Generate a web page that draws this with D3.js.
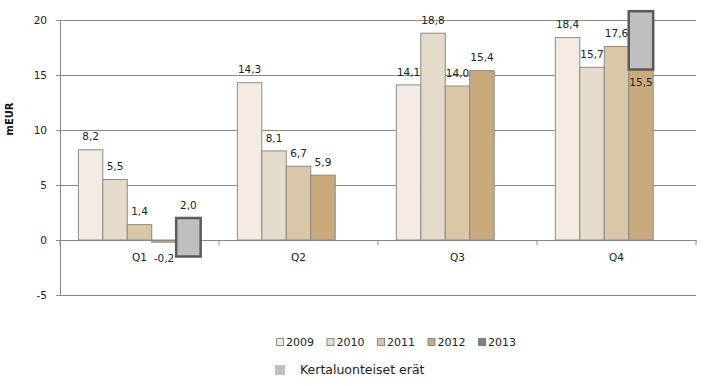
<!DOCTYPE html>
<html>
<head>
<meta charset="utf-8">
<script src="https://cdn.jsdelivr.net/npm/d3@7"></script>
<style>
  body { margin: 0; background: #fff; }
  svg { display: block; font-family: "DejaVu Sans", Verdana, sans-serif; }
</style>
</head>
<body>
<div id="chart"></div>
<script>
// data
const quarters = ["Q1", "Q2", "Q3", "Q4"];
const years = ["2009", "2010", "2011", "2012", "2013"];
const values2009 = [8.2, 14.3, 14.1, 18.4];
const values2010 = [5.5, 8.1, 18.8, 15.7];
const values2011 = [1.4, 6.7, 14.0, 17.6];
const values2012 = [-0.2, 5.9, 15.4, 15.5];
const values2013 = [2.0, null, null, null];
// one-off items drawn as floating boxes
const oneOffQuarters = ["Q1", "Q4"];
const oneOffSlots = ["2013", "2012"];
const oneOffLow = [-1.5, 15.5];
const oneOffHigh = [2.0, 20.8];
const oneOffName = "Kertaluonteiset erät";
const yTicks = [-5, 0, 5, 10, 15, 20];
const yTitle = "mEUR";

const colors = ["#f3ece2", "#e5dbca", "#dac7a8", "#c9aa7d", "#808080"];

const width = 711, height = 386;
const margin = { top: 20, right: 15, bottom: 91, left: 60 };

// plain hyphen minus, comma decimals
const locale = d3.formatLocale({ decimal: ",", thousands: " ", grouping: [3], currency: ["", ""], minus: "-" });
const fmt = locale.format(".1f");
const tickFmt = locale.format("d");

const svg = d3.select("#chart").append("svg")
  .attr("width", width)
  .attr("height", height);

const x = d3.scaleBand()
  .domain(quarters)
  .range([margin.left, width - margin.right]);

const xInner = d3.scaleBand()
  .domain(years)
  .range([0, x.bandwidth()])
  .paddingOuter(0.75);

const y = d3.scaleLinear()
  .domain([-5, 20])
  .range([height - margin.bottom, margin.top]);

// build bar records
const series = [values2009, values2010, values2011, values2012, values2013];
let bars = [];
years.forEach((yr, i) => {
  quarters.forEach((q, j) => {
    if (series[i][j] != null) bars.push({ year: yr, quarter: q, value: series[i][j], idx: i });
  });
});
let boxes = oneOffQuarters.map((q, i) => ({
  quarter: q, year: oneOffSlots[i], low: oneOffLow[i], high: oneOffHigh[i]
}));

// gridlines
svg.append("g")
  .attr("transform", `translate(${margin.left},0)`)
  .call(d3.axisLeft(y).tickValues(yTicks).tickSize(-(width - margin.left - margin.right)).tickFormat(""))
  .call(g => g.selectAll("line").attr("stroke", "#8a8a8a"))
  .call(g => g.select(".domain").remove());

// y axis
svg.append("g")
  .attr("transform", `translate(${margin.left},0)`)
  .call(d3.axisLeft(y).tickValues(yTicks).tickFormat(tickFmt).tickSize(4).tickPadding(9))
  .call(g => g.select(".domain").attr("stroke", "#8a8a8a"))
  .call(g => g.selectAll("line").attr("stroke", "#8a8a8a"))
  .call(g => g.selectAll("text").attr("fill", "#222").style("font-size", "10.5px")
    .style("font-family", "DejaVu Sans, sans-serif"));

svg.append("text")
  .attr("transform", `translate(13, ${y(11)}) rotate(-90)`)
  .attr("text-anchor", "middle")
  .style("font-size", "10px")
  .style("font-weight", "bold")
  .attr("fill", "#111")
  .text(yTitle);

// bars
svg.append("g").selectAll("rect")
  .data(bars)
  .join("rect")
  .attr("x", d => x(d.quarter) + xInner(d.year))
  .attr("width", xInner.bandwidth())
  .attr("y", d => y(Math.max(0, d.value)))
  .attr("height", d => Math.abs(y(d.value) - y(0)))
  .attr("fill", d => colors[d.idx])
  .attr("stroke", "#8a8a8a")
  .attr("stroke-width", 1);

// x axis at zero
svg.append("g")
  .attr("transform", `translate(0,${y(0)})`)
  .call(d3.axisBottom(x).tickSize(0).tickPadding(14))
  .call(g => g.select(".domain").attr("stroke", "#8a8a8a"))
  .call(g => g.selectAll("text").attr("fill", "#222").style("font-size", "10.5px")
    .style("font-family", "DejaVu Sans, sans-serif"));

// category boundary ticks
svg.append("g").selectAll("line")
  .data(quarters.concat(["end"]))
  .join("line")
  .attr("x1", (d, i) => margin.left + i * x.step())
  .attr("x2", (d, i) => margin.left + i * x.step())
  .attr("y1", y(0))
  .attr("y2", y(0) + 5)
  .attr("stroke", "#8a8a8a");

// one-off boxes
svg.append("g").selectAll("rect")
  .data(boxes)
  .join("rect")
  .attr("x", d => x(d.quarter) + xInner(d.year))
  .attr("width", xInner.bandwidth())
  .attr("y", d => y(d.high))
  .attr("height", d => y(d.low) - y(d.high))
  .attr("fill", "#bfbfbf")
  .attr("stroke", "#5a5a5a")
  .attr("stroke-width", 2.5);

// data labels
svg.append("g").selectAll("text")
  .data(bars)
  .join("text")
  .attr("x", d => x(d.quarter) + xInner(d.year) + xInner.bandwidth() / 2)
  .attr("y", d => {
    const covered = boxes.some(b => b.quarter === d.quarter && b.year === d.year && b.low >= d.value - 0.01);
    if (covered && d.year !== "2013") return y(d.value) + 12.5;
    if (d.value < 0) return y(d.value) + 16;
    return y(d.value) - 13;
  })
  .attr("dy", "0.35em")
  .attr("text-anchor", "middle")
  .attr("fill", "#222")
  .style("font-size", "10.5px")
  .text(d => fmt(d.value));

// legend
const legend = svg.append("g").attr("transform", "translate(276, 342)");
let lx = 0;
years.forEach((yr, i) => {
  const item = legend.append("g").attr("transform", `translate(${lx},0)`);
  item.append("rect")
    .attr("x", 0.5).attr("y", -3.5)
    .attr("width", 7).attr("height", 7)
    .attr("fill", colors[i])
    .attr("stroke", i === 4 ? "#808080" : "#8a8a8a");
  const t = item.append("text")
    .attr("x", 10).attr("dy", "0.35em")
    .style("font-size", "11px")
    .attr("fill", "#222")
    .text(yr);
  lx += 10 + t.node().getComputedTextLength() + 12.5;
});

const legend2 = svg.append("g").attr("transform", "translate(275, 370)");
legend2.append("rect")
  .attr("x", 0).attr("y", -5)
  .attr("width", 10).attr("height", 10)
  .attr("fill", "#bfbfbf");
legend2.append("text")
  .attr("x", 25).attr("dy", "0.35em")
  .style("font-size", "12.5px")
  .attr("fill", "#222")
  .text(oneOffName);
</script>
</body>
</html>
